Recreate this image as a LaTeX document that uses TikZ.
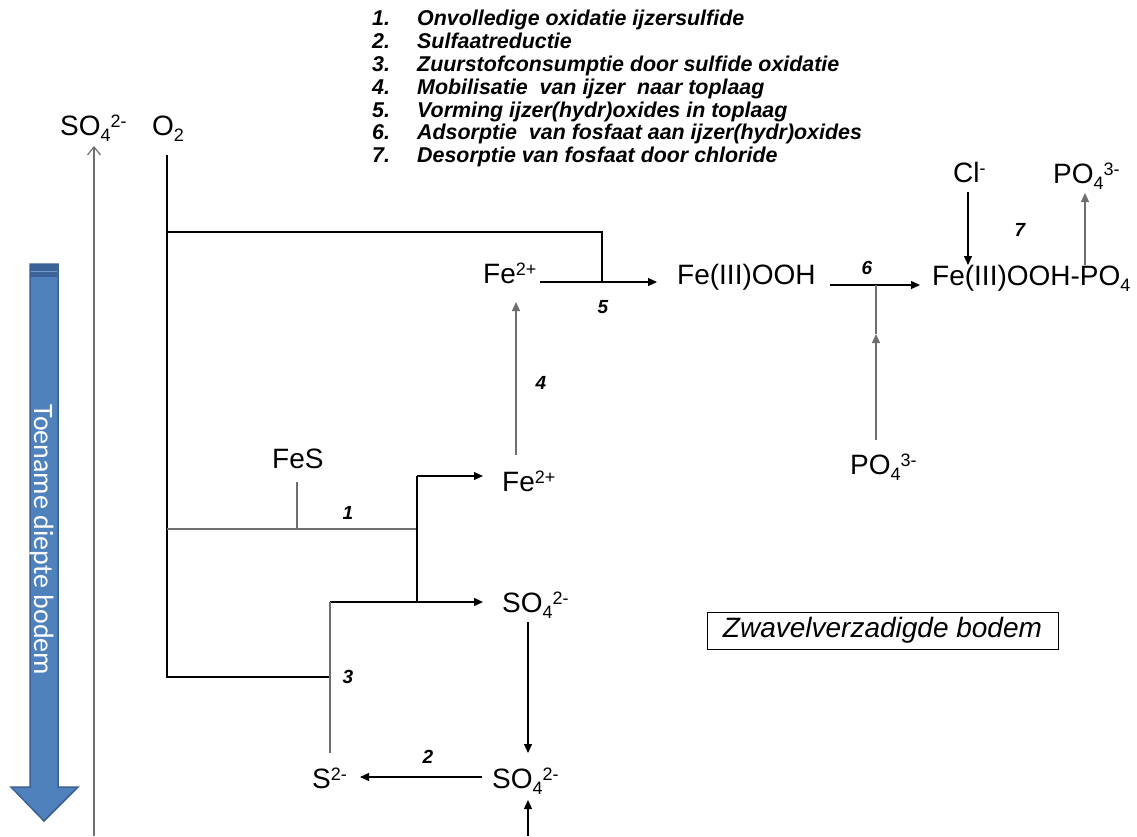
\documentclass[tikz,border=0pt]{standalone}
\usepackage{fontspec}
\setmainfont{Liberation Sans}
\newfontfamily\carlito{Carlito}
\usetikzlibrary{arrows.meta}
\definecolor{lgrey}{HTML}{6E6E6E}
\definecolor{bluefill}{HTML}{4F81BD}
\definecolor{blueedge}{HTML}{3A6192}
\definecolor{bluetop}{HTML}{3B6398}
\newcommand\chsb[1]{\raisebox{-6pt}{\fontsize{18}{18}\selectfont #1}}
\newcommand\chsp[1]{\raisebox{7.5pt}{\fontsize{18}{18}\selectfont #1}}
\tikzset{
  lbl/.style={font=\fontsize{28}{30}\selectfont, inner sep=0pt, anchor=base west},
  num/.style={font=\fontsize{19}{20}\selectfont\bfseries\itshape, inner sep=0pt},
  listnum/.style={font=\fontsize{21.4}{23}\selectfont\bfseries\itshape, inner sep=0pt, anchor=base west},
  con/.style={line width=1.3pt, black},
  gcon/.style={line width=1.3pt, lgrey},
  arr/.style={-{Triangle[length=9pt,width=8pt]}},
}
\begin{document}
\begin{tikzpicture}[x=1pt,y=-1pt]
\useasboundingbox (0,0) rectangle (1137,836);

% legend list
\foreach \i/\t in {1/Onvolledige oxidatie ijzersulfide,
                   2/Sulfaatreductie,
                   3/Zuurstofconsumptie door sulfide oxidatie,
                   4/Mobilisatie\ \ van ijzer\ \ naar toplaag,
                   5/Vorming ijzer(hydr)oxides in toplaag,
                   6/Adsorptie\ \ van fosfaat aan ijzer(hydr)oxides,
                   7/Desorptie van fosfaat door chloride}{
  \node[listnum] (ln\i) at (372,3+22.8*\i) {\i.};
  \node[listnum] (lt\i) at (417,3+22.8*\i) {\t};
}

% blue depth arrow
\fill[bluefill, draw=blueedge, line width=1.5pt, line join=miter]
  (30,264) -- (58,264) -- (58,787) -- (78,787) -- (44,821) -- (11,787) -- (30,787) -- cycle;
\fill[bluetop] (30.8,264.8) rectangle (57.2,277);
\draw[bluefill!80!white, line width=0.8pt] (31,271) -- (57,271);
\node[rotate=-90, anchor=base, inner sep=0pt, text=white,
      font=\carlito\fontsize{28}{30}\selectfont] (depth) at (34,540) {Toename diepte bodem};

% top-left labels
\node[lbl] (so4top) at (60,135) {SO\chsb{4}\chsp{2-}};
\node[lbl] (o2) at (152,135) {O\chsb{2}};

% grey depth axis
\coordinate (axbot) at (94,836);
\coordinate (axtop) at (94,146);
\draw[line width=1.3pt, lgrey, -{Straight Barb[length=8pt,width=13pt,line width=1.2pt]}] (axbot) -- (axtop);

% species
\node[lbl] (fes) at (272,468) {FeS};
\node[lbl] (fe2lo) at (502,491) {Fe\chsp{2+}};
\node[lbl] (so4mid) at (502,612) {SO\chsb{4}\chsp{2-}};
\node[lbl] (s2) at (312,788) {S\chsp{2-}};
\node[lbl] (so4lo) at (492,788) {SO\chsb{4}\chsp{2-}};
\node[lbl] (fe2up) at (483,283) {Fe\chsp{2+}};
\node[lbl] (feooh) at (677,284) {Fe(III)OOH};
\node[lbl] (feoohpo) at (932,285) {Fe(III)OOH-PO\chsb{4}};
\node[lbl] (cl) at (953,182) {Cl\chsp{-}};
\node[lbl] (po4up) at (1053,183) {PO\chsb{4}\chsp{3-}};
\node[lbl] (po4lo) at (850,474) {PO\chsb{4}\chsp{3-}};

\node[draw, line width=1pt, minimum width=351pt, minimum height=37pt, inner sep=0pt,
      font=\fontsize{28}{30}\selectfont\itshape] (box) at (882.5,630.5) {Zwavelverzadigde bodem};

% reaction numbers
\node[num] (r1) at (348,513) {1};
\node[num] (r2) at (428,757) {2};
\node[num] (r3) at (348,677) {3};
\node[num] (r4) at (541,383) {4};
\node[num] (r5) at (603,307) {5};
\node[num] (r6) at (867,268) {6};
\node[num] (r7) at (1020,230) {7};

% junction coordinates
\coordinate (o2a) at (167,155);
\coordinate (o2b) at (167,232);
\coordinate (o2c) at (167,529);
\coordinate (o2d) at (167,677);
\coordinate (j5a) at (602,232);
\coordinate (j5b) at (602,282);
\coordinate (fesb) at (297,482);
\coordinate (fesj) at (297,529);
\coordinate (j1a) at (417,529);
\coordinate (j1t) at (417,476);
\coordinate (j1b) at (417,602);
\coordinate (j3t) at (330,602);
\coordinate (j3m) at (330,677);
\coordinate (j3b) at (330,753);

% oxygen lines
\draw[con] (o2a) -- (o2d) -- (j3m);
\draw[con] (o2b) -- (j5a) -- (j5b);
\draw[gcon] (o2c) -- (j1a);
\draw[gcon] (fesb) -- (fesj);

% reaction 1
\draw[con] (j1t) -- (j1b);
\draw[con, arr] (j1t) -- (483,476);
\draw[con, arr] (j3t) -- (483,602);
\draw[gcon] (j3t) -- (j3b);

% sulfate cycle
\draw[con, arr] (528,622) -- (528,753);
\draw[con, arr] (482,777) -- (360,777);
\draw[con, arr] (528,836) -- (528,800);

% iron path
\draw[gcon, arr] (516,455) -- (516,302);
\draw[con, arr] (540,282) -- (657,282);
\draw[con, arr] (830,285) -- (920,285);
\coordinate (p6a) at (876,440);
\coordinate (p6b) at (876,334);
\coordinate (p6c) at (876,285);
\draw[gcon, arr] (p6a) -- (p6b);
\draw[gcon] (p6b) -- (p6c);

% desorption
\draw[con, arr] (968,192) -- (968,265);
\draw[gcon, arr] (1085,265) -- (1085,193);
\end{tikzpicture}
\end{document}
